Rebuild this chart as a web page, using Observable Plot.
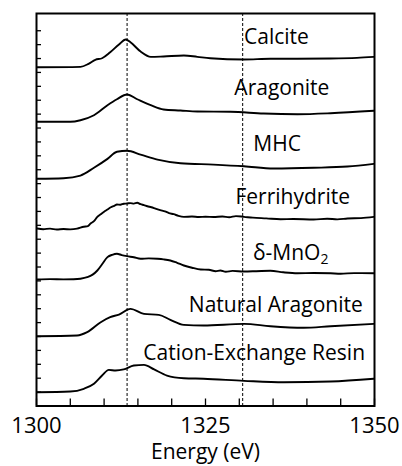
<!DOCTYPE html>
<html>
<head>
<meta charset="utf-8">
<script src="https://cdn.jsdelivr.net/npm/d3@7"></script>
<script src="https://cdn.jsdelivr.net/npm/@observablehq/plot@0.6"></script>
<style>
  html, body { margin: 0; padding: 0; background: white; }
  #chart { width: 402px; height: 466px; }
</style>
</head>
<body>
<div id="chart"></div>
<script>
// ---- data (energy in eV, stacked intensity in arbitrary offset units) ----
const seriesNames = ["Calcite", "Aragonite", "MHC", "Ferrihydrite", "δ-MnO2", "Natural Aragonite", "Cation-Exchange Resin"];

const calciteE = [1300.1, 1306.5, 1307.7, 1308.7, 1309.7, 1310.9, 1312.2, 1313.2, 1313.9, 1315.4, 1316.9, 1318.8, 1321.8, 1323.8, 1325.7, 1330.7, 1334.6, 1338.6, 1343.5, 1347.4, 1349.9];
const calciteI = [24.37, 24.40, 24.62, 24.91, 25.02, 25.45, 26.01, 26.37, 26.17, 25.50, 25.12, 25.15, 25.22, 25.12, 25.02, 24.93, 24.98, 24.98, 25.00, 25.05, 25.12];

const aragoniteE = [1300.1, 1305.0, 1306.5, 1308.5, 1310.5, 1311.9, 1313.4, 1314.9, 1316.9, 1318.8, 1321.3, 1323.8, 1328.7, 1333.6, 1338.6, 1343.5, 1349.9];
const aragoniteI = [20.45, 20.45, 20.56, 20.92, 21.64, 22.07, 22.41, 22.07, 21.64, 21.33, 21.26, 21.19, 21.17, 21.04, 20.99, 21.06, 21.24];

const mhcE = [1300.1, 1304.0, 1306.5, 1308.5, 1310.5, 1311.9, 1313.4, 1315.4, 1317.9, 1321.3, 1326.2, 1330.7, 1335.1, 1341.0, 1346.0, 1349.9];
const mhcI = [16.35, 16.39, 16.58, 17.14, 17.78, 18.29, 18.36, 18.09, 17.73, 17.47, 17.37, 17.25, 17.09, 17.14, 17.23, 17.42];

const ferriE = [1300.1, 1301, 1302, 1303, 1304, 1305, 1306, 1307, 1307.6, 1308.0, 1308.5, 1309.0, 1309.5, 1310.0, 1310.5, 1311.0, 1311.5, 1311.9, 1312.4, 1312.9, 1313.4, 1313.9, 1314.4, 1314.9, 1315.4, 1315.9, 1316.4, 1317.0, 1317.6, 1318.3, 1319.0, 1319.6, 1320.3, 1321.0, 1321.8, 1323, 1324, 1325, 1326.2, 1327.5, 1328.5, 1329.5, 1330.7, 1332, 1334, 1336.1, 1338, 1341.0, 1343, 1344.5, 1346.0, 1348, 1349.9];
const ferriI = [12.77, 12.72, 12.76, 12.70, 12.73, 12.71, 12.76, 12.90, 12.94, 13.13, 13.30, 13.61, 13.80, 13.98, 14.14, 14.30, 14.40, 14.50, 14.48, 14.55, 14.57, 14.60, 14.56, 14.62, 14.52, 14.45, 14.37, 14.30, 14.20, 14.09, 14.00, 13.88, 13.80, 13.68, 13.61, 13.63, 13.60, 13.62, 13.60, 13.63, 13.58, 13.66, 13.61, 13.55, 13.50, 13.44, 13.45, 13.42, 13.47, 13.43, 13.49, 13.52, 13.61];

const mno2E = [1300.1, 1302, 1304, 1305.5, 1306.5, 1307.5, 1308.3, 1309.0, 1309.7, 1310.5, 1311.2, 1311.9, 1312.6, 1313.4, 1314.4, 1315.4, 1316.6, 1317.9, 1318.8, 1319.8, 1320.8, 1321.8, 1323, 1324.3, 1325.5, 1326.5, 1327.2, 1328, 1329, 1330.7, 1332.5, 1334.6, 1336.5, 1338.6, 1341, 1343.5, 1345, 1347, 1349.9];
const mno2I = [9.10, 9.13, 9.11, 9.12, 9.16, 9.27, 9.45, 9.75, 10.20, 10.71, 10.88, 10.95, 10.86, 10.78, 10.70, 10.59, 10.62, 10.59, 10.55, 10.47, 10.30, 10.11, 9.95, 9.82, 9.80, 9.70, 9.75, 9.66, 9.72, 9.68, 9.70, 9.73, 9.62, 9.55, 9.57, 9.55, 9.52, 9.56, 9.55];

const natAragE = [1300.1, 1306.0, 1307.5, 1309.5, 1310.9, 1312.2, 1313.9, 1315.9, 1318.1, 1319.8, 1321.8, 1324.7, 1330.7, 1334.6, 1339.5, 1343.5, 1349.9];
const natAragI = [5.02, 5.07, 5.31, 6.03, 6.39, 6.58, 6.99, 6.63, 6.56, 6.20, 5.84, 5.79, 5.91, 5.74, 5.63, 5.74, 5.91];

const resinE = [1300.1, 1305.0, 1307.0, 1308.5, 1309.7, 1310.7, 1311.7, 1312.9, 1314.4, 1315.9, 1317.4, 1319.3, 1321.8, 1324.7, 1330.7, 1336.6, 1343.5, 1349.9];
const resinI = [0.99, 1.04, 1.24, 1.60, 2.19, 2.60, 2.55, 2.63, 2.91, 2.96, 2.63, 2.19, 2.00, 1.96, 1.81, 1.71, 1.76, 1.96];

const refLines = [1313.4, 1330.5];
const xTickValues = d3.range(1300, 1351, 5);
const xTickLabels = [1300, 1325, 1350];
const yTickValues = d3.range(1, 28);

// label anchors (energy, stacked units)
const labelE = [1335.5, 1336.3, 1335.6, 1337.9, 1337.6, 1335.4, 1332.2];
const labelI = [26.51, 22.84, 18.81, 15.0, 10.97, 7.23, 3.78];

// ---- build table ----
const energies = [calciteE, aragoniteE, mhcE, ferriE, mno2E, natAragE, resinE];
const intens = [calciteI, aragoniteI, mhcI, ferriI, mno2I, natAragI, resinI];
const rows = [];
seriesNames.forEach((name, k) => {
  energies[k].forEach((e, i) => rows.push({name, e, v: intens[k][i]}));
});
const labels = seriesNames.map((name, k) => ({name, e: labelE[k], v: labelI[k]}));

const chart = Plot.plot({
  width: 402,
  height: 466,
  marginLeft: 36,
  marginRight: 28,
  marginTop: 13,
  marginBottom: 60.5,
  style: {fontFamily: "Open Sans", background: "white", color: "black"},
  x: {domain: [1300, 1350]},
  y: {domain: [0, 28.24]},
  marks: [
    Plot.ruleX(refLines, {stroke: "black", strokeWidth: 1, strokeDasharray: "3,2"}),
    Plot.line(rows, {x: "e", y: "v", z: "name", stroke: "black", strokeWidth: 1.9, curve: "monotone-x"}),
    Plot.text(labels, {x: "e", y: "v", text: "name", fontSize: 21, fill: "black", textAnchor: "middle", lineAnchor: "middle"}),
    Plot.axisX({ticks: xTickValues, tickSize: -7, tickFormat: () => "", label: null, strokeWidth: 1.3}),
    Plot.axisY({ticks: yTickValues, tickSize: -5, tickFormat: () => "", label: null, strokeWidth: 1.3}),
    Plot.text(xTickLabels, {x: d => d, text: d => String(d), frameAnchor: "bottom", dy: 20, fontSize: 22, fill: "black", lineAnchor: "middle"}),
    Plot.text(["Energy (eV)"], {x: () => 1325, text: d => d, frameAnchor: "bottom", dy: 46, fontSize: 21, fill: "black", lineAnchor: "middle"}),
    Plot.frame({stroke: "black", strokeWidth: 2})
  ]
});

// render subscript for δ-MnO2
d3.select(chart).selectAll("text").each(function() {
  if (this.textContent === "δ-MnO2") {
    this.textContent = "δ-MnO";
    const ts = document.createElementNS("http://www.w3.org/2000/svg", "tspan");
    ts.setAttribute("dy", "0.3em");
    ts.setAttribute("font-size", "14");
    ts.textContent = "2";
    this.appendChild(ts);
  }
});

document.getElementById("chart").appendChild(chart);
</script>
</body>
</html>
